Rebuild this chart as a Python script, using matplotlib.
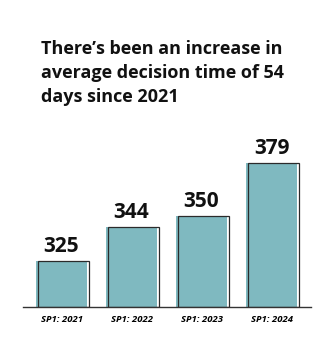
import matplotlib.pyplot as plt

labels = ['SP1: 2021', 'SP1: 2022', 'SP1: 2023', 'SP1: 2024']
values = [325, 344, 350, 379]
title = "There\u2019s been an increase in\naverage decision time of 54\ndays since 2021"

teal = '#7fb9c0'
dark = '#2b2b2b'

fig = plt.figure(figsize=(3.33, 3.62), dpi=100)
ax = fig.add_axes([23 / 333, 55 / 362, 288 / 333, 157 / 362])

x = list(range(len(values)))
base = 300
heights = [v - base for v in values]

# dark outline offset a little to the right, like a shadow edge
ax.bar([i + 0.025 for i in x], heights, width=0.73, bottom=base, color='none',
       edgecolor=dark, linewidth=0.9, zorder=3)
ax.bar(x, heights, width=0.73, bottom=base, color=teal, edgecolor='none', zorder=2.5)

for i, v in zip(x, values):
    ax.text(i, v + 2.2, str(v), ha='center', va='bottom', fontsize=15,
            fontweight='bold', family='Open Sans', color='#111111')

ax.set_xlim(-0.55, 3.564)
ax.set_ylim(base, 386.1)
ax.set_xticks(x)
ax.set_xticklabels(labels, fontsize=6.8, fontstyle='italic', fontweight='bold',
                   family='Open Sans')
ax.tick_params(axis='x', length=0, pad=6)
ax.set_yticks([])
for s in ['top', 'right', 'left']:
    ax.spines[s].set_visible(False)
ax.spines['bottom'].set_color('#333333')
ax.spines['bottom'].set_linewidth(1.0)
ax.spines['bottom'].set_zorder(4)

fig.text(41 / 333, 1 - 40 / 362, title, ha='left', va='top', fontsize=13,
         fontweight='bold', family='Open Sans', linespacing=1.42, color='#111111')

fig.savefig('out.png', dpi=100)
